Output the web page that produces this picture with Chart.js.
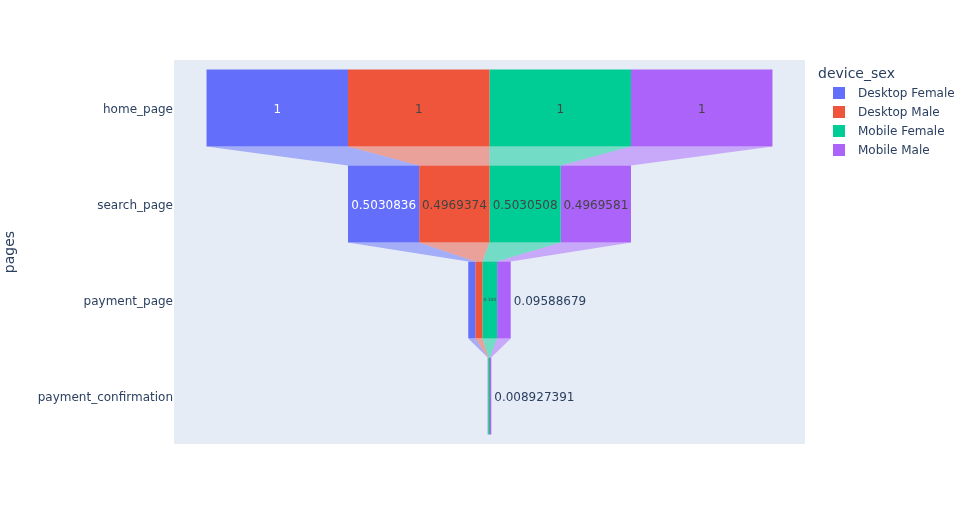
<!DOCTYPE html>
<html><head><meta charset="utf-8">
<script src="https://cdn.jsdelivr.net/npm/chart.js@4/dist/chart.umd.min.js"></script>
<style>html,body{margin:0;padding:0;background:#fff}#wrap{width:971px;height:525px;position:relative}</style>
</head><body><div id="wrap"><canvas id="c"></canvas></div>
<script>
const pages = ['home_page', 'search_page', 'payment_page', 'payment_confirmation'];
const seriesNames = ['Desktop Female', 'Desktop Male', 'Mobile Female', 'Mobile Male'];
const desktopFemale = [1, 0.5030836, 0.0497, 0.0025];
const desktopMale = [1, 0.4969374, 0.0503, 0.0025];
const mobileFemale = [1, 0.5030508, 0.104, 0.0111];
const mobileMale = [1, 0.4969581, 0.09588679, 0.008927391];
const seriesColors = ['#636efa', '#EF553B', '#00cc96', '#ab63fa'];
const connectorColors = ['rgba(99,110,250,0.5)', 'rgba(239,85,59,0.5)', 'rgba(0,204,150,0.5)', 'rgba(171,99,250,0.5)'];
const insideTextColors = ['#ffffff', '#444444', '#444444', '#444444'];
const legendTitle = 'device_sex';
const yAxisTitle = 'pages';

const seriesValues = [desktopFemale, desktopMale, mobileFemale, mobileMale];
const FONT = '"DejaVu Sans", sans-serif';
const totals = pages.map((_, i) => seriesValues.reduce((s, a) => s + a[i], 0));
const ranges = seriesValues.map(() => []);
pages.forEach((_, i) => {
  let x = -totals[i] / 2;
  seriesValues.forEach((a, k) => { ranges[k].push([x, x + a[i]]); x += a[i]; });
});

const bgPlugin = {
  id: 'plotbg',
  beforeDraw(chart) {
    const { ctx, chartArea: a } = chart;
    ctx.save(); ctx.fillStyle = '#E5ECF6';
    ctx.fillRect(a.left, a.top, a.right - a.left, a.bottom - a.top);
    ctx.restore();
  }
};

const connectorPlugin = {
  id: 'connectors',
  beforeDatasetsDraw(chart) {
    const ctx = chart.ctx, xs = chart.scales.x;
    ctx.save();
    chart.data.datasets.forEach((ds, k) => {
      const meta = chart.getDatasetMeta(k);
      for (let i = 0; i < pages.length - 1; i++) {
        const e1 = meta.data[i].getProps(['y', 'height'], true);
        const e2 = meta.data[i + 1].getProps(['y', 'height'], true);
        const yb = e1.y + e1.height / 2, yt = e2.y - e2.height / 2;
        const a0 = xs.getPixelForValue(ranges[k][i][0]), a1 = xs.getPixelForValue(ranges[k][i][1]);
        const b0 = xs.getPixelForValue(ranges[k][i + 1][0]), b1 = xs.getPixelForValue(ranges[k][i + 1][1]);
        ctx.beginPath();
        ctx.moveTo(a0, yb); ctx.lineTo(a1, yb); ctx.lineTo(b1, yt); ctx.lineTo(b0, yt); ctx.closePath();
        ctx.fillStyle = connectorColors[k]; ctx.fill();
      }
    });
    ctx.restore();
  }
};

const labelPlugin = {
  id: 'barlabels',
  afterDatasetsDraw(chart) {
    const ctx = chart.ctx, xs = chart.scales.x;
    ctx.save();
    ctx.textBaseline = 'middle';
    chart.data.datasets.forEach((ds, k) => {
      const meta = chart.getDatasetMeta(k);
      seriesValues[k].forEach((v, i) => {
        const txt = String(v);
        const p = meta.data[i].getProps(['y'], true);
        const cy = p.y + 2;
        const x0 = xs.getPixelForValue(ranges[k][i][0]), x1 = xs.getPixelForValue(ranges[k][i][1]);
        const w = x1 - x0;
        ctx.font = '12px ' + FONT;
        const tw = ctx.measureText(txt).width;
        if (tw + 4 <= w) {
          ctx.fillStyle = insideTextColors[k]; ctx.textAlign = 'center';
          ctx.fillText(txt, (x0 + x1) / 2, cy);
        } else if (k === seriesValues.length - 1) {
          ctx.fillStyle = '#2a3f5f'; ctx.textAlign = 'left';
          ctx.fillText(txt, x1 + 3, cy);
        } else {
          const s = (w - 2) / tw;
          if (s >= 0.18) {
            ctx.font = (12 * s).toFixed(2) + 'px ' + FONT;
            ctx.fillStyle = insideTextColors[k]; ctx.textAlign = 'center';
            ctx.fillText(txt, (x0 + x1) / 2, p.y);
          }
        }
      });
    });
    ctx.restore();
  }
};

const legendPlugin = {
  id: 'customLegend',
  afterDraw(chart) {
    const ctx = chart.ctx;
    ctx.save();
    ctx.textBaseline = 'middle'; ctx.textAlign = 'left';
    ctx.fillStyle = '#2a3f5f';
    ctx.font = '14px ' + FONT;
    ctx.fillText(legendTitle, 818, 74);
    ctx.font = '12px ' + FONT;
    seriesNames.forEach((n, k) => {
      const cy = 93 + k * 19;
      ctx.fillStyle = seriesColors[k];
      ctx.fillRect(833, cy - 6, 12, 12);
      ctx.fillStyle = '#2a3f5f';
      ctx.fillText(n, 858, cy + 1);
    });
    ctx.restore();
  }
};

new Chart(document.getElementById('c'), {
  type: 'bar',
  data: {
    labels: pages,
    datasets: seriesNames.map((n, k) => ({
      label: n,
      data: ranges[k],
      backgroundColor: seriesColors[k],
      borderWidth: 0,
      grouped: false,
      barPercentage: 0.8,
      categoryPercentage: 1.0
    }))
  },
  options: {
    indexAxis: 'y',
    responsive: true,
    maintainAspectRatio: false,
    animation: false,
    events: [],
    layout: { padding: { left: 0, right: 166, top: 60, bottom: 81 } },
    plugins: { legend: { display: false }, tooltip: { enabled: false } },
    scales: {
      x: { display: false, min: -2.23, max: 2.23 },
      y: {
        type: 'category',
        offset: true,
        grid: { display: false, drawTicks: false },
        border: { display: false },
        ticks: { color: '#2a3f5f', font: { family: FONT, size: 12 }, padding: 1, labelOffset: 2 },
        title: { display: true, text: yAxisTitle, color: '#2a3f5f', font: { family: FONT, size: 14 }, padding: { top: 2, bottom: 0 } },
        afterFit(s) { s.width = 174; }
      }
    }
  },
  plugins: [bgPlugin, connectorPlugin, labelPlugin, legendPlugin]
});
</script></body></html>
